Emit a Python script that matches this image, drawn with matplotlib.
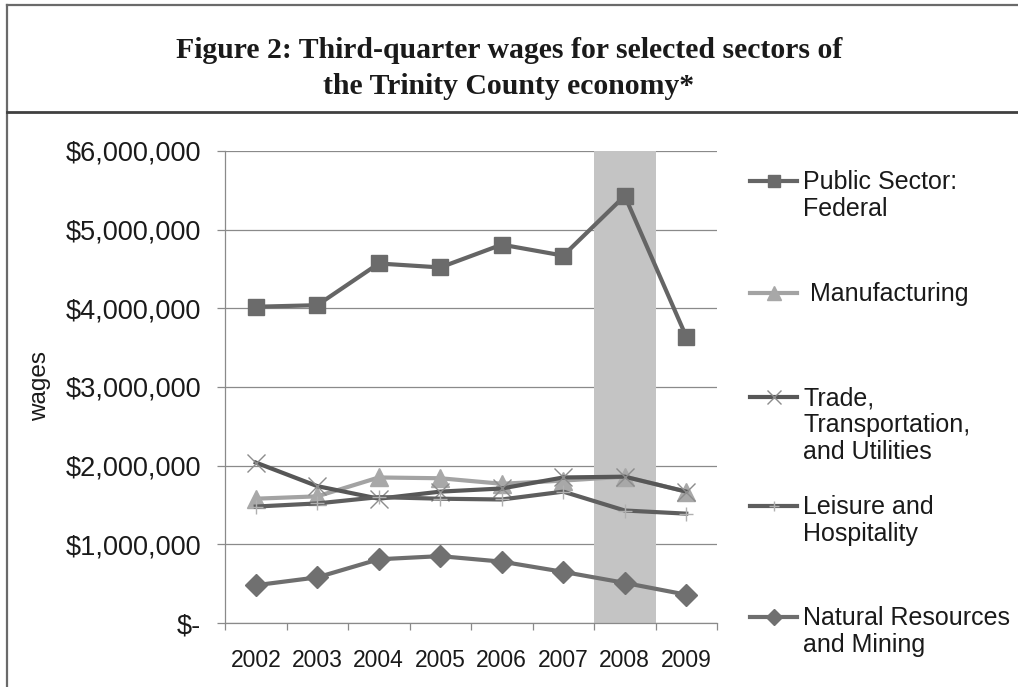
import numpy as np
import matplotlib
matplotlib.use('Agg')
import matplotlib.pyplot as plt
from matplotlib.lines import Line2D
from matplotlib.ticker import FuncFormatter, FixedLocator

plt.rcParams['font.family'] = ['Liberation Sans', 'DejaVu Sans']

# data
years = ['2002', '2003', '2004', '2005', '2006', '2007', '2008', '2009']
federal = [4.02e6, 4.04e6, 4.57e6, 4.52e6, 4.81e6, 4.67e6, 5.43e6, 3.64e6]
manufacturing = [1.58e6, 1.61e6, 1.85e6, 1.84e6, 1.77e6, 1.81e6, 1.86e6, 1.67e6]
trade = [2.04e6, 1.74e6, 1.58e6, 1.67e6, 1.71e6, 1.85e6, 1.86e6, 1.67e6]
leisure = [1.48e6, 1.52e6, 1.60e6, 1.58e6, 1.57e6, 1.67e6, 1.43e6, 1.39e6]
natural = [0.48e6, 0.58e6, 0.81e6, 0.85e6, 0.78e6, 0.65e6, 0.51e6, 0.36e6]

labels = ['Public Sector:\nFederal', ' Manufacturing',
          'Trade,\nTransportation,\nand Utilities', 'Leisure and\nHospitality',
          'Natural Resources\nand Mining']
shade_year = '2008'

W, H = 1018, 687
fig = plt.figure(figsize=(W / 100, H / 100), dpi=100)

def fx(px):
    return px / W

def fy(py):
    return 1 - py / H

ax = fig.add_axes([fx(225), fy(623), fx(717) - fx(225), fy(151) - fy(623)])

x = np.arange(len(years))
styles = [
    dict(color='#656565', marker='s', ms=12, mfc='#6b6b6b', mec='#6b6b6b'),
    dict(color='#a3a3a3', marker='^', ms=13, mfc='#a8a8a8', mec='#a8a8a8'),
    dict(color='#575757', marker='x', ms=13, mec='#8c8c8c', mew=1.0),
    dict(color='#5e5e5e', marker='+', ms=10, mec='#b0b0b0', mew=1.0),
    dict(color='#6e6e6e', marker='D', ms=11, mfc='#707070', mec='#707070'),
]
series = [federal, manufacturing, trade, leisure, natural]

si = years.index(shade_year)
ax.axvspan(si - 0.5, si + 0.5, color='#c4c4c4', zorder=1, lw=0)

for vals, st in zip(series, styles):
    ax.plot(x, vals, lw=3, zorder=3, solid_joinstyle='round', **st)

ax.set_xlim(-0.5, len(years) - 0.5)
ax.set_ylim(0, 6e6)
ax.set_yticks(np.arange(0, 6.01e6, 1e6))
ax.yaxis.set_major_formatter(FuncFormatter(lambda v, p: '$-' if v == 0 else '${:,.0f}'.format(v)))
ax.yaxis.grid(True, color='#8a8a8a', lw=0.9, zorder=0)
ax.set_axisbelow(True)

ax.set_xticks(x)
ax.set_xticklabels(years)
ax.xaxis.set_minor_locator(FixedLocator(np.arange(-0.5, len(years), 1.0)))
ax.tick_params(axis='x', which='major', length=0, pad=19, labelsize=16.5, colors='#1a1a1a')
ax.tick_params(axis='x', which='minor', length=5, color='#8a8a8a', width=0.9)
ax.tick_params(axis='y', length=6, pad=11, labelsize=19.5, color='#8a8a8a', width=0.9,
               labelcolor='#1a1a1a')

for s in ['top', 'right']:
    ax.spines[s].set_visible(False)
for s in ['left', 'bottom']:
    ax.spines[s].set_color('#8a8a8a')
    ax.spines[s].set_linewidth(0.9)

fig.text(fx(40), fy(386), 'wages', rotation=90, ha='center', va='center',
         fontsize=17.5, color='#1a1a1a')

# legend, laid out like the original
leg_y = [181, 293, 397, 506, 617]
for ly, lab, st in zip(leg_y, labels, styles):
    fig.add_artist(Line2D([fx(750), fx(797)], [fy(ly), fy(ly)], lw=3,
                          transform=fig.transFigure, color=st['color']))
    mk = dict(st)
    mk['ms'] = mk['ms'] * 0.75
    fig.add_artist(Line2D([fx(773.5)], [fy(ly)], lw=0, transform=fig.transFigure, **mk))
    fig.text(fx(803), fy(ly - 11), lab, ha='left', va='top', fontsize=18,
             linespacing=1.15, color='#1a1a1a')

# title
fig.text(0.5, fy(50), 'Figure 2: Third-quarter wages for selected sectors of',
         ha='center', va='center', fontsize=21.4, fontweight='bold',
         family='Liberation Serif', color='#1a1a1a')
fig.text(0.5, fy(86), 'the Trinity County economy*',
         ha='center', va='center', fontsize=21.4, fontweight='bold',
         family='Liberation Serif', color='#1a1a1a')

# frame lines
fig.add_artist(Line2D([fx(7), 1], [fy(5), fy(5)], lw=1.6, color='#6a6a6a', transform=fig.transFigure))
fig.add_artist(Line2D([fx(7), fx(7)], [fy(5), 0], lw=1.6, color='#6a6a6a', transform=fig.transFigure))
fig.add_artist(Line2D([fx(7), 1], [fy(112), fy(112)], lw=2.0, color='#404040', transform=fig.transFigure))

fig.savefig('out.png', dpi=100)
